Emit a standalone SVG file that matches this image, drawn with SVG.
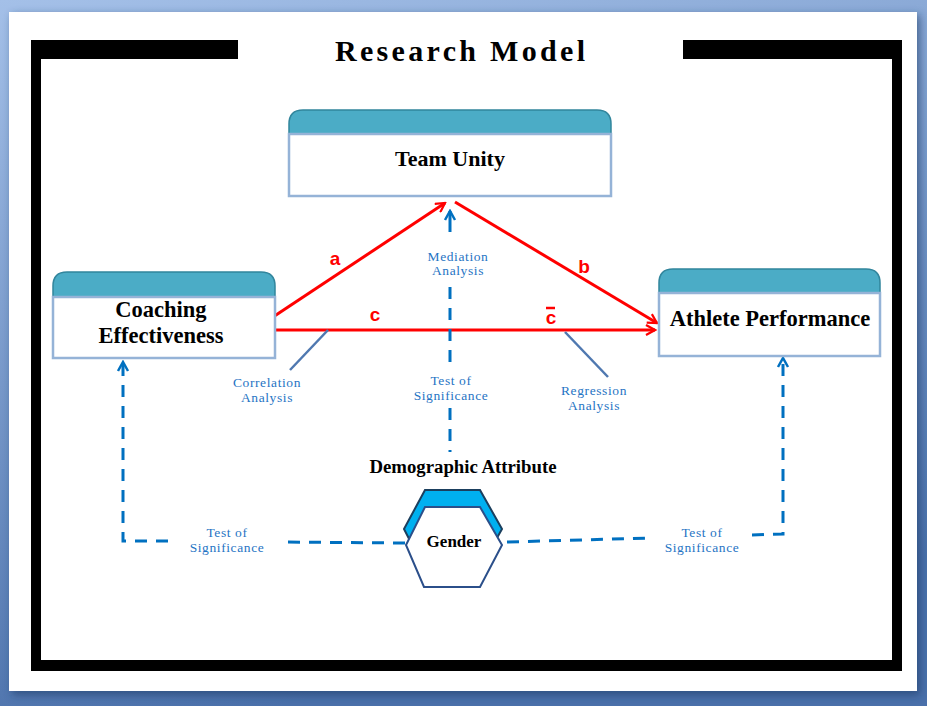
<svg xmlns="http://www.w3.org/2000/svg" width="927" height="706" viewBox="0 0 927 706">
<defs>
<linearGradient id="bg" x1="0" y1="0" x2="0.3" y2="1">
<stop offset="0" stop-color="#a4c0e8"/>
<stop offset="1" stop-color="#4a70aa"/>
</linearGradient>
<filter id="sh" x="-5%" y="-5%" width="110%" height="110%">
<feGaussianBlur stdDeviation="4"/>
</filter>
<marker id="ra" viewBox="0 0 12 12" refX="10" refY="6" markerWidth="12" markerHeight="12" markerUnits="userSpaceOnUse" orient="auto">
<path d="M1,1 L10,6 L1,11" fill="none" stroke="#ff0000" stroke-width="2.2"/>
</marker>
<marker id="ba" viewBox="0 0 12 12" refX="10" refY="6" markerWidth="12" markerHeight="14" markerUnits="userSpaceOnUse" orient="auto">
<path d="M1,1 L10,6 L1,11" fill="none" stroke="#0070c0" stroke-width="2.5"/>
</marker>
<style>
.cap{fill:#4bacc6;stroke:#31859c;stroke-width:1.5}
.body{fill:#ffffff;stroke:#95b3d7;stroke-width:2.5}
.nt{font-family:"Liberation Serif","Times New Roman",serif;font-weight:bold;fill:#000;text-anchor:middle}
.bl{font-family:"Liberation Serif","Times New Roman",serif;font-size:13.5px;fill:#1f74c4;text-anchor:middle;letter-spacing:0.6px}
.rl{font-family:"Liberation Sans",Arial,sans-serif;font-weight:bold;font-size:19px;fill:#ff0000;text-anchor:middle}
.red{stroke:#ff0000;stroke-width:3;fill:none}
.dash{stroke:#0070c0;stroke-width:3;fill:none;stroke-dasharray:12 9}
.pt{stroke:#4f78b0;stroke-width:2.5;fill:none}
</style>
</defs>
<rect x="0" y="0" width="927" height="706" fill="url(#bg)"/>
<rect x="12" y="15" width="908" height="680" fill="#1e3a66" opacity="0.6" filter="url(#sh)"/>
<rect x="9" y="12" width="908" height="679" fill="#ffffff"/>
<!-- frame -->
<g id="frame" fill="#000">
<rect x="31" y="40" width="207" height="19"/>
<rect x="683" y="40" width="219" height="19"/>
<rect x="31" y="40" width="10" height="631"/>
<rect x="892" y="40" width="10" height="631"/>
<rect x="31" y="660" width="871" height="11"/>
</g>
<text x="460" y="61" font-family="'Liberation Serif','Times New Roman',serif" font-weight="bold" font-size="30" text-anchor="middle" textLength="250" lengthAdjust="spacing">Research Model</text>

<g id="connectors">
<line class="red" x1="273" y1="317" x2="445" y2="203" marker-end="url(#ra)"/>
<line class="red" x1="455" y1="202" x2="657" y2="323" marker-end="url(#ra)"/>
<line class="red" x1="275" y1="330" x2="655" y2="330" marker-end="url(#ra)"/>
<line class="pt" x1="328" y1="330" x2="290" y2="370"/>
<line class="pt" x1="565" y1="332" x2="608" y2="377"/>
<!-- mediation vertical -->
<line x1="450" y1="232" x2="450" y2="211" stroke="#0070c0" stroke-width="3" marker-end="url(#ba)"/>
<line class="dash" x1="450" y1="287" x2="450" y2="368"/>
<line class="dash" x1="450" y1="408" x2="450" y2="452"/>
<!-- left -->
<polyline class="dash" points="405,543 282,542"/>
<polyline class="dash" points="168,541 123,541 123,362" marker-end="url(#ba)"/>
<!-- right -->
<polyline class="dash" points="507,542 652,538"/>
<polyline class="dash" points="752,535 783,534 783,358" marker-end="url(#ba)"/>
</g>

<g id="team-unity">
<path class="cap" d="M289,134 L289,124 Q289,110 303,110 L597,110 Q611,110 611,124 L611,134 Z"/>
<rect class="body" x="289" y="134" width="322" height="62"/>
<text class="nt" x="450" y="166" font-size="22">Team Unity</text>
</g>

<g id="coaching-effectiveness">
<path class="cap" d="M53,297 L53,286 Q53,272 67,272 L261,272 Q275,272 275,286 L275,297 Z"/>
<rect class="body" x="53" y="297" width="222" height="61"/>
<text class="nt" x="161" y="317" font-size="22.5">Coaching</text>
<text class="nt" x="161" y="343" font-size="22.5">Effectiveness</text>
</g>

<g id="athlete-performance">
<path class="cap" d="M659,293 L659,283 Q659,269 673,269 L866,269 Q880,269 880,283 L880,293 Z"/>
<rect class="body" x="659" y="293" width="221" height="63"/>
<text class="nt" x="770" y="326" font-size="22.5">Athlete Performance</text>
</g>

<g id="gender">
<polygon points="425,490 480,490 502,529 480,568 424,568 404,529" fill="#00b0f0" stroke="#1b3f5e" stroke-width="2"/>
<polygon points="425,507 480,507 502,545 480,587 424,587 406,545" fill="#ffffff" stroke="#2b4f8a" stroke-width="2"/>
<text class="nt" x="454" y="547" font-size="17">Gender</text>
</g>

<g id="labels">
<text class="nt" x="463" y="473" font-size="18" textLength="187" lengthAdjust="spacingAndGlyphs">Demographic Attribute</text>
<text class="rl" x="335" y="265">a</text>
<text class="rl" x="584" y="273">b</text>
<text class="rl" x="375" y="321">c</text>
<text class="rl" x="551" y="324">c</text>
<line x1="546" y1="308" x2="555" y2="308" stroke="#ff0000" stroke-width="2.5"/>
<text class="bl" x="458" y="261">Mediation</text>
<text class="bl" x="458" y="275">Analysis</text>
<text class="bl" x="267" y="387">Correlation</text>
<text class="bl" x="267" y="402">Analysis</text>
<text class="bl" x="451" y="385">Test of</text>
<text class="bl" x="451" y="400">Significance</text>
<text class="bl" x="594" y="395">Regression</text>
<text class="bl" x="594" y="410">Analysis</text>
<text class="bl" x="227" y="537">Test of</text>
<text class="bl" x="227" y="552">Significance</text>
<text class="bl" x="702" y="537">Test of</text>
<text class="bl" x="702" y="552">Significance</text>
</g>
</svg>
